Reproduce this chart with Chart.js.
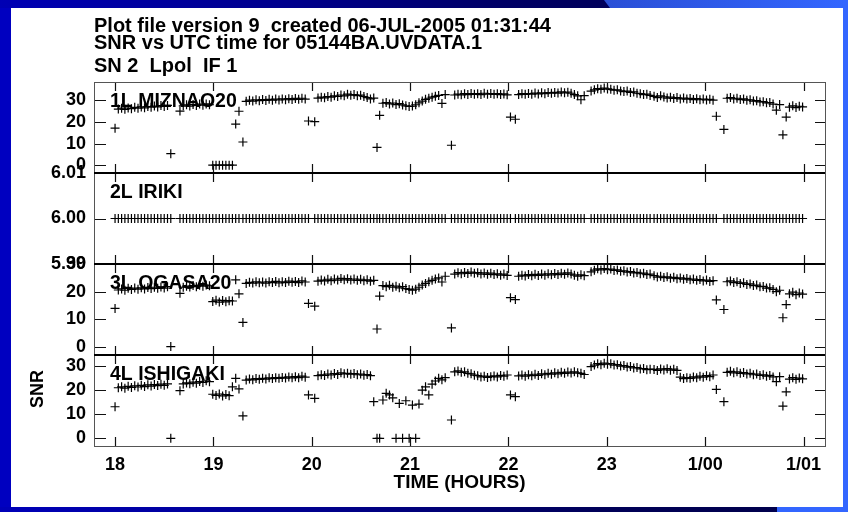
<!DOCTYPE html>
<html>
<head>
<meta charset="utf-8">
<title>SNR vs UTC time</title>
<script src="https://cdn.jsdelivr.net/npm/chart.js@4.4.1/dist/chart.umd.min.js"></script>
<style>
  html, body { margin: 0; padding: 0; }
  body { width: 848px; height: 512px; overflow: hidden; position: relative; background: #0000c0; }
  .band { position: absolute; }
  #topDark { left: 0; top: 0; width: 612px; height: 8px;
    background: linear-gradient(to right, #0000b4 0px, #00008a 300px, #000066 500px, #00005a 612px); }
  #topLight { left: 604px; top: 0; width: 244px; height: 8px;
    background: linear-gradient(to right, #2a4fd6 0px, #3366ff 244px);
    clip-path: polygon(0 0, 100% 0, 100% 100%, 6px 100%); }
  #rightStrip { left: 843px; top: 0; width: 5px; height: 512px; background: #3366ff; }
  #bottomDark { left: 0; top: 507px; width: 777px; height: 5px;
    background: linear-gradient(to right, #0000b8 0px, #000090 300px, #000058 600px, #00004c 777px); }
  #bottomLight { left: 777px; top: 507px; width: 71px; height: 5px; background: #3366ff; }
  #sheet { position: absolute; left: 11px; top: 8px; width: 832px; height: 499px; background: #ffffff; }
  #plot { position: absolute; left: 0; top: 0; }
</style>
</head>
<body>
<div class="band" id="topDark"></div>
<div class="band" id="topLight"></div>
<div class="band" id="rightStrip"></div>
<div class="band" id="bottomDark"></div>
<div class="band" id="bottomLight"></div>
<div id="sheet"></div>
<canvas id="plot" width="848" height="512"></canvas>
<script>
// ---- tick marks and labels ----
const xTickValues = [18, 19, 20, 21, 22, 23, 24, 25];
const xTickLabels = ['18', '19', '20', '21', '22', '23', '1/00', '1/01'];
const snrTicks = [0, 10, 20, 30];
const irikiTicks = [5.99, 6.00, 6.01];

// ---- antennas ----
const stationNames = ['1L MIZNAO20', '2L IRIKI', '3L OGASA20', '4L ISHIGAKI'];

// ---- scans: start time (UTC hours) and integration step (minutes) ----
const scanStart = [18.00, 18.66, 19.30, 20.03, 20.69, 21.42, 22.07, 22.84, 23.48, 24.19];
const stepMinutes = 2;

// ---- SNR per scan, one inner array per scan ----
const snrMizNao = [
  [17.1, 25.9, 26.3, 25.8, 26.4, 26.1, 26.7, 26.3, 26.9, 26.5, 27.1, 26.8, 27.3, 26.9, 27.5, 27.1, 27.6, 5.3],
  [25.0, 27.4, 27.9, 27.3, 28.0, 27.6, 28.2, 27.7, 28.3, 27.9, 0, 0, 0, 0, 0, 0, 0, 19.0, 24.9],
  [10.7, 29.5, 30.0, 29.6, 30.2, 29.8, 30.3, 29.9, 30.4, 30.0, 30.5, 30.1, 30.6, 30.2, 30.7, 30.3, 30.8, 30.4, 30.9, 30.5, 20.4],
  [20.1, 31.0, 31.4, 31.1, 31.7, 31.4, 32.0, 31.7, 32.4, 32.0, 32.8, 32.3, 32.6, 32.1, 32.3, 31.7, 31.2, 30.6, 31.0, 8.2],
  [23.0, 28.6, 28.9, 28.3, 28.7, 28.0, 28.4, 27.8, 27.4, 27.1, 27.3, 27.9, 28.8, 29.6, 30.4, 30.9, 31.4, 31.8, 32.2, 28.5, 32.6],
  [9.2, 32.4, 32.8, 32.5, 33.0, 32.6, 33.1, 32.7, 33.0, 32.6, 33.2, 32.8, 33.1, 32.7, 33.0, 32.6, 32.9, 32.5, 22.2],
  [21.2, 32.6, 33.0, 32.7, 33.1, 32.8, 33.3, 32.9, 33.4, 33.0, 33.5, 33.2, 33.6, 33.3, 33.8, 33.4, 33.7, 33.2, 32.6, 32.0, 30.2, 32.1],
  [34.2, 34.8, 35.3, 35.0, 35.6, 35.2, 35.0, 34.6, 34.8, 34.3, 34.0, 34.2, 33.6, 33.8, 33.2, 33.0, 32.6, 32.8, 32.2],
  [31.8, 31.2, 32.0, 31.5, 31.0, 31.4, 30.8, 31.2, 30.6, 31.0, 30.5, 30.8, 30.3, 30.7, 30.2, 30.5, 30.1, 30.4, 30.0, 22.6],
  [16.5, 30.9, 31.2, 30.6, 30.9, 30.3, 30.6, 30.0, 30.2, 29.6, 29.8, 29.2, 29.3, 28.8, 28.9, 28.2, 25.4, 28.0, 14.0, 22.2, 26.8, 27.4, 26.6, 27.2, 26.9]
];
const snrIriki = [
  [6.00, 6.00, 6.00, 6.00, 6.00, 6.00, 6.00, 6.00, 6.00, 6.00, 6.00, 6.00, 6.00, 6.00, 6.00, 6.00, 6.00, 6.00],
  [6.00, 6.00, 6.00, 6.00, 6.00, 6.00, 6.00, 6.00, 6.00, 6.00, 6.00, 6.00, 6.00, 6.00, 6.00, 6.00, 6.00, 6.00, 6.00],
  [6.00, 6.00, 6.00, 6.00, 6.00, 6.00, 6.00, 6.00, 6.00, 6.00, 6.00, 6.00, 6.00, 6.00, 6.00, 6.00, 6.00, 6.00, 6.00, 6.00, 6.00],
  [6.00, 6.00, 6.00, 6.00, 6.00, 6.00, 6.00, 6.00, 6.00, 6.00, 6.00, 6.00, 6.00, 6.00, 6.00, 6.00, 6.00, 6.00, 6.00, 6.00],
  [6.00, 6.00, 6.00, 6.00, 6.00, 6.00, 6.00, 6.00, 6.00, 6.00, 6.00, 6.00, 6.00, 6.00, 6.00, 6.00, 6.00, 6.00, 6.00, 6.00, 6.00],
  [6.00, 6.00, 6.00, 6.00, 6.00, 6.00, 6.00, 6.00, 6.00, 6.00, 6.00, 6.00, 6.00, 6.00, 6.00, 6.00, 6.00, 6.00, 6.00],
  [6.00, 6.00, 6.00, 6.00, 6.00, 6.00, 6.00, 6.00, 6.00, 6.00, 6.00, 6.00, 6.00, 6.00, 6.00, 6.00, 6.00, 6.00, 6.00, 6.00, 6.00, 6.00],
  [6.00, 6.00, 6.00, 6.00, 6.00, 6.00, 6.00, 6.00, 6.00, 6.00, 6.00, 6.00, 6.00, 6.00, 6.00, 6.00, 6.00, 6.00, 6.00],
  [6.00, 6.00, 6.00, 6.00, 6.00, 6.00, 6.00, 6.00, 6.00, 6.00, 6.00, 6.00, 6.00, 6.00, 6.00, 6.00, 6.00, 6.00, 6.00, 6.00],
  [6.00, 6.00, 6.00, 6.00, 6.00, 6.00, 6.00, 6.00, 6.00, 6.00, 6.00, 6.00, 6.00, 6.00, 6.00, 6.00, 6.00, 6.00, 6.00, 6.00, 6.00, 6.00, 6.00, 6.00, 6.00]
];
const snrOgasa = [
  [13.9, 20.6, 21.0, 20.5, 21.2, 20.8, 21.3, 20.9, 21.4, 21.0, 21.5, 21.1, 21.6, 21.2, 21.7, 21.3, 21.8, 0],
  [19.4, 21.6, 22.0, 21.7, 22.2, 21.8, 22.3, 22.0, 22.4, 22.1, 16.4, 16.9, 16.2, 16.8, 16.3, 16.7, 16.6, 24.3, 19.2],
  [8.8, 23.0, 23.4, 23.1, 23.6, 23.2, 23.5, 23.1, 23.6, 23.3, 23.7, 23.2, 23.6, 23.3, 23.8, 23.4, 23.7, 23.3, 23.9, 23.5, 15.7],
  [14.7, 23.8, 24.2, 23.9, 24.5, 24.0, 24.6, 24.2, 24.8, 24.3, 24.7, 24.2, 24.6, 24.1, 24.5, 24.0, 24.3, 23.8, 24.1, 6.4],
  [18.4, 22.2, 21.8, 22.3, 21.6, 22.0, 21.4, 21.8, 21.1, 20.8, 20.5, 20.9, 21.6, 22.4, 23.0, 23.6, 24.1, 24.6, 25.0, 23.5, 25.6],
  [6.8, 26.4, 26.9, 26.5, 27.0, 26.6, 27.1, 26.7, 26.9, 26.4, 26.8, 26.3, 26.7, 26.2, 26.5, 26.0, 26.4, 25.9, 17.8],
  [17.1, 25.6, 26.0, 25.7, 26.2, 25.8, 26.3, 25.9, 26.4, 26.0, 26.5, 26.1, 26.6, 26.2, 26.7, 26.3, 26.8, 26.4, 26.0, 25.6, 26.1, 25.8],
  [27.2, 27.8, 28.3, 27.9, 28.4, 28.0, 28.2, 27.7, 27.9, 27.4, 27.6, 27.1, 27.3, 26.8, 27.0, 26.5, 26.7, 26.2, 26.4],
  [25.8, 25.3, 25.6, 25.1, 25.4, 24.9, 25.2, 24.7, 25.0, 24.5, 24.8, 24.3, 24.6, 24.1, 24.4, 23.9, 24.2, 23.7, 24.0, 17.0],
  [13.5, 23.6, 23.9, 23.3, 23.6, 23.0, 23.2, 22.6, 22.8, 22.2, 22.4, 21.8, 21.9, 21.3, 21.4, 20.8, 20.0, 20.5, 10.5, 15.3, 19.2, 19.8, 18.9, 19.5, 19.1]
];
const snrIshigaki = [
  [13.1, 21.0, 21.4, 20.8, 21.6, 21.1, 21.8, 21.3, 22.0, 21.5, 22.2, 21.7, 22.3, 21.9, 22.5, 22.0, 22.6, 0],
  [19.8, 22.6, 23.0, 22.7, 23.3, 22.9, 23.6, 23.2, 23.9, 23.5, 18.3, 17.8, 18.4, 17.6, 18.2, 17.7, 21.4, 24.9, 20.5],
  [9.3, 24.2, 24.6, 24.3, 24.8, 24.5, 24.9, 24.6, 25.1, 24.8, 25.2, 24.9, 25.3, 25.0, 25.5, 25.1, 25.6, 25.2, 25.8, 25.4, 18.0],
  [16.6, 26.0, 26.4, 26.1, 26.7, 26.3, 26.9, 26.5, 27.2, 26.8, 27.0, 26.6, 26.9, 26.4, 26.7, 26.2, 26.5, 26.0, 15.2, 0],
  [0, 15.9, 18.7, 18.0, 16.8, 0, 14.5, 0, 15.6, 0, 13.8, 0, 14.2, 20.0, 21.4, 18.0, 22.5, 23.8, 24.9, 24.3, 25.2],
  [7.6, 27.6, 28.0, 27.4, 27.6, 27.0, 26.8, 26.2, 26.0, 25.5, 25.8, 25.3, 25.6, 25.9, 25.5, 26.1, 25.8, 26.3, 18.0],
  [17.3, 25.9, 26.3, 25.8, 26.4, 26.0, 26.6, 26.1, 26.8, 26.4, 27.0, 26.6, 27.2, 26.8, 27.4, 27.0, 27.5, 27.1, 27.6, 27.2, 27.0, 26.5],
  [29.8, 30.4, 31.0, 30.6, 31.2, 30.8, 31.0, 30.4, 30.6, 30.0, 30.2, 29.6, 29.8, 29.2, 29.4, 28.8, 29.0, 28.5, 28.7],
  [28.6, 28.2, 28.8, 28.4, 28.9, 28.3, 28.7, 28.2, 25.4, 24.8, 25.2, 24.9, 25.5, 25.1, 25.8, 25.4, 26.0, 25.6, 26.3, 20.3],
  [15.2, 27.4, 27.8, 27.2, 27.6, 27.0, 27.3, 26.7, 27.0, 26.4, 26.7, 26.1, 26.4, 25.8, 26.1, 25.5, 23.5, 25.6, 13.4, 19.3, 24.6, 25.2, 24.5, 25.0, 24.7]
];

// turn the per-scan SNR lists into {x: UTC hours, y: SNR} points
function toPoints(perScan) {
  const pts = [];
  perScan.forEach((vals, s) => {
    vals.forEach((v, k) => pts.push({ x: scanStart[s] + k * stepMinutes / 60, y: v }));
  });
  return pts;
}

const panelAxes = ['y1', 'y2', 'y3', 'y4'];
const panelSeries = [snrMizNao, snrIriki, snrOgasa, snrIshigaki];

const FONT = '"Liberation Sans", Arial, Helvetica, sans-serif';
const INK = '#000000';

function panelAxis(order, min, max, ticks, digits) {
  return {
    type: 'linear', position: 'left', stack: 'panels', stackWeight: 1, weight: order,
    min: min, max: max,
    grid: { display: false, drawTicks: false }, border: { display: false },
    afterBuildTicks: (axis) => { axis.ticks = ticks.map(v => ({ value: v })); },
    afterFit: (axis) => { axis.width = 94; },
    ticks: {
      color: INK, padding: 8, autoSkip: false,
      font: { family: FONT, size: 18, weight: 'bold' },
      callback: (v) => Number(v).toFixed(digits)
    }
  };
}

// frame, inward ticks, dividers and antenna labels for each panel
const panelFrame = {
  id: 'panelFrame',
  afterDatasetsDraw(chart) {
    const ctx = chart.ctx;
    const xs = chart.scales.x;
    const L = chart.chartArea.left, R = chart.chartArea.right;
    ctx.save();
    ctx.strokeStyle = '#111111';
    ctx.lineWidth = 1.2;
    ctx.beginPath();
    panelAxes.forEach((id) => {
      const ys = chart.scales[id];
      const top = ys.top, bot = ys.bottom;
      xTickValues.forEach((v) => {
        const px = Math.round(xs.getPixelForValue(v)) + 0.5;
        ctx.moveTo(px, top); ctx.lineTo(px, top + 9);
        ctx.moveTo(px, bot); ctx.lineTo(px, bot - 9);
      });
      ys.ticks.forEach((t) => {
        const py = Math.round(ys.getPixelForValue(t.value)) + 0.5;
        ctx.moveTo(L, py); ctx.lineTo(L + 12, py);
        ctx.moveTo(R, py); ctx.lineTo(R - 10, py);
      });
    });
    ctx.stroke();

    // outer box
    const top0 = chart.scales.y1.top, botN = chart.scales.y4.bottom;
    ctx.strokeStyle = '#555555';
    ctx.lineWidth = 1;
    ctx.strokeRect(Math.round(L) + 0.5, Math.round(top0) + 0.5, Math.round(R - L), Math.round(botN - top0));

    // panel dividers
    ctx.strokeStyle = '#000000';
    ctx.lineWidth = 2;
    ctx.beginPath();
    ['y2', 'y3', 'y4'].forEach((id) => {
      const y = Math.round(chart.scales[id].top);
      ctx.moveTo(L, y); ctx.lineTo(R, y);
    });
    ctx.stroke();

    // antenna labels
    ctx.fillStyle = INK;
    ctx.font = 'bold 19.5px ' + FONT;
    ctx.textAlign = 'left';
    ctx.textBaseline = 'middle';
    panelAxes.forEach((id, i) => {
      ctx.fillText(stationNames[i], L + 16, chart.scales[id].top + 20);
    });

    // y-axis name, beside the lowest panel
    ctx.translate(38, 389);
    ctx.rotate(-Math.PI / 2);
    ctx.textAlign = 'center';
    ctx.font = 'bold 18px ' + FONT;
    ctx.fillText('SNR', 0, 0);
    ctx.restore();
  }
};

new Chart(document.getElementById('plot'), {
  type: 'scatter',
  data: {
    datasets: panelSeries.map((series, i) => ({
      label: stationNames[i],
      data: toPoints(series),
      yAxisID: panelAxes[i],
      pointStyle: 'cross',
      pointRadius: 4.5,
      pointBorderWidth: 1.2,
      pointBorderColor: INK,
      pointBackgroundColor: INK,
      showLine: false
    }))
  },
  options: {
    responsive: false,
    animation: false,
    events: [],
    layout: { padding: { left: 0, right: 23, top: 8, bottom: 0 } },
    plugins: {
      legend: { display: false },
      tooltip: { enabled: false },
      title: {
        display: true, align: 'start', fullSize: false, color: INK,
        text: ['Plot file version 9  created 06-JUL-2005 01:31:44', 'SNR vs UTC time for 05144BA.UVDATA.1'],
        font: { family: FONT, size: 20, weight: 'bold', lineHeight: '17px' },
        padding: { top: 9.5, bottom: 0 }
      },
      subtitle: {
        display: true, align: 'start', fullSize: false, color: INK,
        text: 'SN 2  Lpol  IF 1',
        font: { family: FONT, size: 20, weight: 'bold', lineHeight: '17px' },
        padding: { top: 6.5, bottom: 7 }
      }
    },
    scales: {
      x: {
        type: 'linear', position: 'bottom', min: 17.786, max: 25.218,
        grid: { display: false, drawTicks: false }, border: { display: false },
        afterBuildTicks: (axis) => { axis.ticks = xTickValues.map(v => ({ value: v })); },
        afterFit: (axis) => { axis.height = 66; },
        ticks: {
          color: INK, padding: 8, autoSkip: false, maxRotation: 0,
          font: { family: FONT, size: 18, weight: 'bold' },
          callback: (v) => xTickLabels[xTickValues.indexOf(v)]
        },
        title: {
          display: true, text: 'TIME (HOURS)', color: INK,
          font: { family: FONT, size: 19, weight: 'bold' },
          padding: { top: 18, bottom: 18 }
        }
      },
      y1: panelAxis(4, -3.6, 38.4, snrTicks, 0),
      y2: panelAxis(3, 5.99, 6.01, irikiTicks, 2),
      y3: panelAxis(2, -3.05, 30.05, snrTicks, 0),
      y4: panelAxis(1, -3.2, 34.6, snrTicks, 0)
    }
  },
  plugins: [panelFrame]
});
</script>
</body>
</html>
